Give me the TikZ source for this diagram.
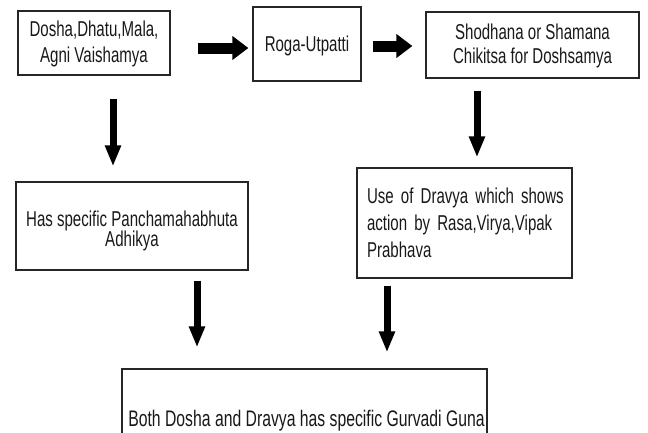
\documentclass[tikz,border=0pt]{standalone}
\usepackage{fontspec}
\setmainfont{Liberation Sans}[FakeStretch=0.70]
\usetikzlibrary{arrows.meta}
\begin{document}
\begin{tikzpicture}[x=1pt,y=-1pt,
  box/.style={draw=black!85, line width=1.2pt, inner sep=0pt},
  txt/.style={inner sep=0pt, text=black!90, font=\fontsize{21.5}{26}\selectfont},
  harrow/.style={line width=11pt, -{Triangle[length=16pt,width=23pt]}},
  varrow/.style={line width=7pt, -{Triangle[length=21pt,width=15pt]}}]
\useasboundingbox[fill=white] (0,0) rectangle (648,432);

\node[box, minimum width=152pt, minimum height=64pt] (b1) at (94,43) {};
\node[txt, align=center, font=\fontsize{21.5}{26}\selectfont] (t1) at (94,44) {Dosha,Dhatu,Mala,\\Agni Vaishamya};

\node[box, minimum width=108pt, minimum height=74pt] (b2) at (307,44) {};
\node[txt] (t2) at (307,46) {Roga-Utpatti};

\node[box, minimum width=213pt, minimum height=66pt] (b3) at (532.5,45) {};
\node[txt, align=center, font=\fontsize{21.5}{24}\selectfont] (t3) at (532.5,45.5) {Shodhana or Shamana\\Chikitsa for Doshsamya};

\node[box, minimum width=232pt, minimum height=88pt] (b4) at (132,226) {};
\node[txt, align=center, font=\fontsize{21.5}{20.5}\selectfont] (t4) at (132,231) {Has specific Panchamahabhuta\\Adhikya};

\node[box, minimum width=215pt, minimum height=110pt] (b5) at (464.5,223) {};
\node[txt, text width=195pt, align=left, font=\fontsize{21.5}{27}\selectfont] (t5) at (464.5,222.5) {\makebox[195pt][s]{Use of Dravya which shows}\\action by Rasa,Virya,Vipak\\Prabhava};

\node[box, minimum width=365pt, minimum height=104pt] (b6) at (304.5,421) {};
\node[txt, font=\fontsize{22.5}{25}\selectfont] (t6) at (306.5,421) {Both Dosha and Dravya has specific Gurvadi Guna};

\draw[harrow] ([xshift=27pt,yshift=-5pt]b1.east) -- ([xshift=-4pt,yshift=-4pt]b2.west);
\draw[harrow] ([xshift=11pt,yshift=-2pt]b2.east) -- ([xshift=-13pt,yshift=-1pt]b3.west);
\draw[varrow] ([xshift=19pt,yshift=-23pt]b1.south) -- ([xshift=-19pt,yshift=15pt]b4.north);
\draw[varrow] ([xshift=-55.5pt,yshift=-12pt]b3.south) -- ([xshift=12.5pt,yshift=10pt]b5.north);
\draw[varrow] ([xshift=65pt,yshift=-10pt]b4.south) -- ([xshift=-107.5pt,yshift=21pt]b6.north);
\draw[varrow] ([xshift=-77.5pt,yshift=-7pt]b5.south) -- ([xshift=82.5pt,yshift=16pt]b6.north);
\end{tikzpicture}
\end{document}
